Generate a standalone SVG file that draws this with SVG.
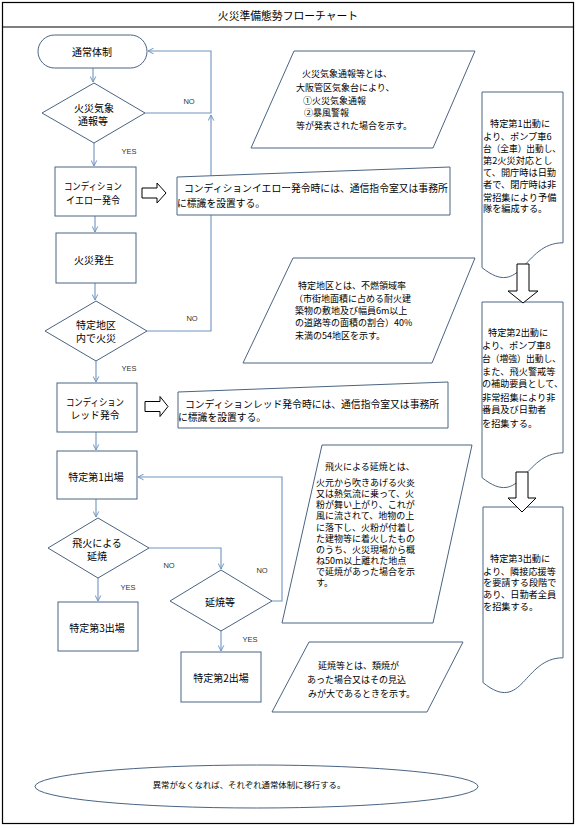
<svg xmlns="http://www.w3.org/2000/svg" width="576" height="828" viewBox="0 0 576 828">
<style>
text{font-family:"Noto Sans CJK JP","Noto Sans CJK SC",sans-serif;fill:#000;dominant-baseline:central}
tspan{dominant-baseline:central}
.n{font-size:10px;text-anchor:middle}
.t{font-size:9px}
.c{font-size:9.8px}
.d{font-size:9.2px}
.lb{font-family:"Liberation Sans",Arial,sans-serif;font-size:7.5px;fill:#333;text-anchor:middle}
.s{fill:#fff;stroke:#4a6482;stroke-width:1}
.ba{fill:#fff;stroke:#000;stroke-width:1}
.cn path{fill:none;stroke:#6f93c0;stroke-width:1.1}
</style>
<defs>
<marker id="ah" viewBox="0 0 10 10" refX="9" refY="5" markerWidth="7" markerHeight="7" markerUnits="userSpaceOnUse" orient="auto">
<path d="M1,1 L9,5 L1,9" fill="none" stroke="#6f93c0" stroke-width="1.4"/>
</marker>
</defs>
<rect x="0" y="0" width="576" height="828" fill="#fff"/>
<rect x="2.5" y="2.5" width="571" height="821" fill="none" stroke="#000" stroke-width="1.2"/>
<line x1="2.5" y1="27" x2="573.5" y2="27" stroke="#000" stroke-width="1.2"/>
<text id="title" x="288" y="15" style="font-size:10.8px;text-anchor:middle">火災準備態勢フローチャート</text>

<g id="connectors" class="cn">
<path d="M93,68 V82" marker-end="url(#ah)"/>
<path d="M145,113 H211 V51 H148" marker-end="url(#ah)"/>
<path d="M147,331 H211 V115" marker-end="url(#ah)"/>
<path d="M94,143 V166" marker-end="url(#ah)"/>
<path d="M95,216 V232" marker-end="url(#ah)"/>
<path d="M95,283 V300" marker-end="url(#ah)"/>
<path d="M96,361 V382" marker-end="url(#ah)"/>
<path d="M96,432 V450" marker-end="url(#ah)"/>
<path d="M96,499 V517" marker-end="url(#ah)"/>
<path d="M98,578 V601" marker-end="url(#ah)"/>
<path d="M149,548 H221 V569" marker-end="url(#ah)"/>
<path d="M221,630 V651" marker-end="url(#ah)"/>
<path d="M272,601 H282 V477 H138" marker-end="url(#ah)"/>
</g>

<g id="labels">
<text class="lb" x="189" y="101">NO</text>
<text class="lb" x="129" y="151">YES</text>
<text class="lb" x="192" y="318">NO</text>
<text class="lb" x="129" y="368">YES</text>
<text class="lb" x="169" y="565">NO</text>
<text class="lb" x="262" y="570">NO</text>
<text class="lb" x="128" y="587">YES</text>
<text class="lb" x="250" y="639">YES</text>
</g>

<g id="n-tsujo">
<rect class="s" x="38" y="35" width="109" height="33" rx="16.5"/>
<text class="n" x="92" y="51">通常体制</text>
</g>
<g id="n-kishou">
<polygon class="s" points="94,83 145,113 94,143 42,113"/>
<text class="n"><tspan x="94" y="107">火災気象</tspan><tspan x="93" y="120">通報等</tspan></text>
</g>
<g id="n-yellow">
<rect class="s" x="55" y="167" width="81" height="49"/>
<text class="n"><tspan x="93" y="185" textLength="58" lengthAdjust="spacingAndGlyphs">コンディション</tspan><tspan x="93" y="199" textLength="54" lengthAdjust="spacingAndGlyphs">イエロー発令</tspan></text>
</g>
<g id="n-kasai">
<rect class="s" x="56" y="233" width="80" height="50"/>
<text class="n" x="94" y="259">火災発生</text>
</g>
<g id="n-tokutei">
<polygon class="s" points="96,301 147,331 96,361 45,331"/>
<text class="n"><tspan x="96" y="324">特定地区</tspan><tspan x="96" y="337">内で火災</tspan></text>
</g>
<g id="n-red">
<rect class="s" x="57" y="383" width="80" height="49"/>
<text class="n"><tspan x="95" y="401" textLength="58" lengthAdjust="spacingAndGlyphs">コンディション</tspan><tspan x="95" y="414" textLength="49" lengthAdjust="spacingAndGlyphs">レッド発令</tspan></text>
</g>
<g id="n-dai1">
<rect class="s" x="57" y="451" width="80" height="48"/>
<text class="n" x="96" y="476">特定第1出場</text>
</g>
<g id="n-hibi">
<polygon class="s" points="98,518 149,548 98,578 48,548"/>
<text class="n"><tspan x="97" y="542">飛火による</tspan><tspan x="97" y="555">延焼</tspan></text>
</g>
<g id="n-enshou">
<polygon class="s" points="221,570 272,601 221,631 170,601"/>
<text class="n" x="220" y="601">延焼等</text>
</g>
<g id="n-dai3">
<rect class="s" x="58" y="602" width="80" height="49"/>
<text class="n" x="97" y="627">特定第3出場</text>
</g>
<g id="n-dai2">
<rect class="s" x="181" y="652" width="80" height="50"/>
<text class="n" x="221" y="677">特定第2出場</text>
</g>

<g id="arrow-yellow">
<polygon class="ba" points="142,188 157,188 157,183 166,193 157,203 157,198 142,198"/>
</g>
<g id="arrow-red">
<polygon class="ba" points="145,401.5 160,401.5 160,396.5 168,406.5 160,416.5 160,411.5 145,411.5"/>
</g>

<g id="note-yellow">
<polygon class="s" points="177,177 450,167 450,215 177,215"/>
<text class="c"><tspan x="184" y="188">コンディションイエロー発令時には、通信指令室又は事務所</tspan><tspan x="177" y="203">に標識を設置する。</tspan></text>
</g>
<g id="note-red">
<polygon class="s" points="178,392 448,382 448,428 178,428"/>
<text class="c"><tspan x="185" y="404">コンディションレッド発令時には、通信指令室又は事務所</tspan><tspan x="178" y="417">に標識を設置する。</tspan></text>
</g>

<g id="note-kishou">
<polygon class="s" points="294,51 475,51 433,148 251,148"/>
<text class="t"><tspan x="302" y="73">火災気象通報等とは、</tspan><tspan x="296" y="87">大阪管区気象台により、</tspan><tspan x="303" y="100">①火災気象通報</tspan><tspan x="304" y="112">②暴風警報</tspan><tspan x="296" y="125">等が発表された場合を示す。</tspan></text>
</g>
<g id="note-tokutei">
<polygon class="s" points="293,258 475,258 432,363 243,363"/>
<text class="t"><tspan x="298" y="285">特定地区とは、不燃領域率</tspan><tspan x="294" y="298">（市街地面積に占める耐火建</tspan><tspan x="295" y="310">築物の敷地及び幅員6m以上</tspan><tspan x="295" y="322">の道路等の面積の割合）40%</tspan><tspan x="295" y="335">未満の54地区を示す。</tspan></text>
</g>
<g id="note-hibi">
<polygon class="s" points="322,445 472,445 433,623 282,623"/>
<text class="t"><tspan x="325" y="466">飛火による延焼とは、</tspan><tspan x="316" y="482">火元から吹きあげる火炎</tspan><tspan x="316" y="493">又は熱気流に乗って、火</tspan><tspan x="316" y="504">粉が舞い上がり、これが</tspan><tspan x="316" y="515">風に流されて、地物の上</tspan><tspan x="316" y="527">に落下し、火粉が付着し</tspan><tspan x="316" y="538">た建物等に着火したもの</tspan><tspan x="316" y="549">のうち、火災現場から概</tspan><tspan x="316" y="560">ね50m以上離れた地点</tspan><tspan x="316" y="571">で延焼があった場合を示</tspan><tspan x="316" y="582">す。</tspan></text>
</g>
<g id="note-enshou">
<polygon class="s" points="309,642 463,642 427,712 272,712"/>
<text class="t"><tspan x="318" y="665">延焼等とは、類焼が</tspan><tspan x="307" y="679">あった場合又はその見込</tspan><tspan x="308" y="693">みが大であるときを示す。</tspan></text>
</g>

<g id="doc1">
<path class="s" d="M482,92 H563 V242.8 C522.5,242.8 522.5,300.1 482,267.6 Z"/>
<text class="d"><tspan x="490" y="123">特定第1出動に</tspan><tspan x="483" y="136">より、ポンプ車6</tspan><tspan x="483" y="148" textLength="78" lengthAdjust="spacingAndGlyphs">台（全車）出動し、</tspan><tspan x="483" y="160">第2火災対応とし</tspan><tspan x="483" y="172">て、開庁時は日勤</tspan><tspan x="483" y="184">者で、閉庁時は非</tspan><tspan x="483" y="197">常招集により予備</tspan><tspan x="483" y="208">隊を編成する。</tspan></text>
</g>
<g id="doc2">
<path class="s" d="M482,302 H563 V452.8 C522.5,452.8 522.5,510.1 482,477.6 Z"/>
<text class="d"><tspan x="488" y="332">特定第2出動に</tspan><tspan x="482" y="345">より、ポンプ車8</tspan><tspan x="482" y="358" textLength="79" lengthAdjust="spacingAndGlyphs">台（増強）出動し、</tspan><tspan x="482" y="371">また、飛火警戒等</tspan><tspan x="482" y="383" textLength="81" lengthAdjust="spacingAndGlyphs">の補助要員として、</tspan><tspan x="482" y="397">非常招集により非</tspan><tspan x="482" y="409">番員及び日勤者</tspan><tspan x="482" y="423">を招集する。</tspan></text>
</g>
<g id="doc3">
<path class="s" d="M483,507 H563 V657.8 C523,657.8 523,715.1 483,682.6 Z"/>
<text class="d"><tspan x="490" y="558">特定第3出動に</tspan><tspan x="483" y="571">より、隣接応援等</tspan><tspan x="483" y="582">を要請する段階で</tspan><tspan x="483" y="594">あり、日勤者全員</tspan><tspan x="483" y="606">を招集する。</tspan></text>
</g>

<g id="arrow-down1">
<polygon class="ba" points="517,264 529,264 529,291 538,291 523,303 508,291 517,291"/>
</g>
<g id="arrow-down2">
<polygon class="ba" points="516,472 528,472 528,498 536,498 522,512 508,498 516,498"/>
</g>

<g id="n-end">
<ellipse class="s" cx="256.5" cy="786.5" rx="221.5" ry="21.5"/>
<text class="n" x="249" y="784" style="font-size:8.4px">異常がなくなれば、それぞれ通常体制に移行する。</text>
</g>
</svg>
